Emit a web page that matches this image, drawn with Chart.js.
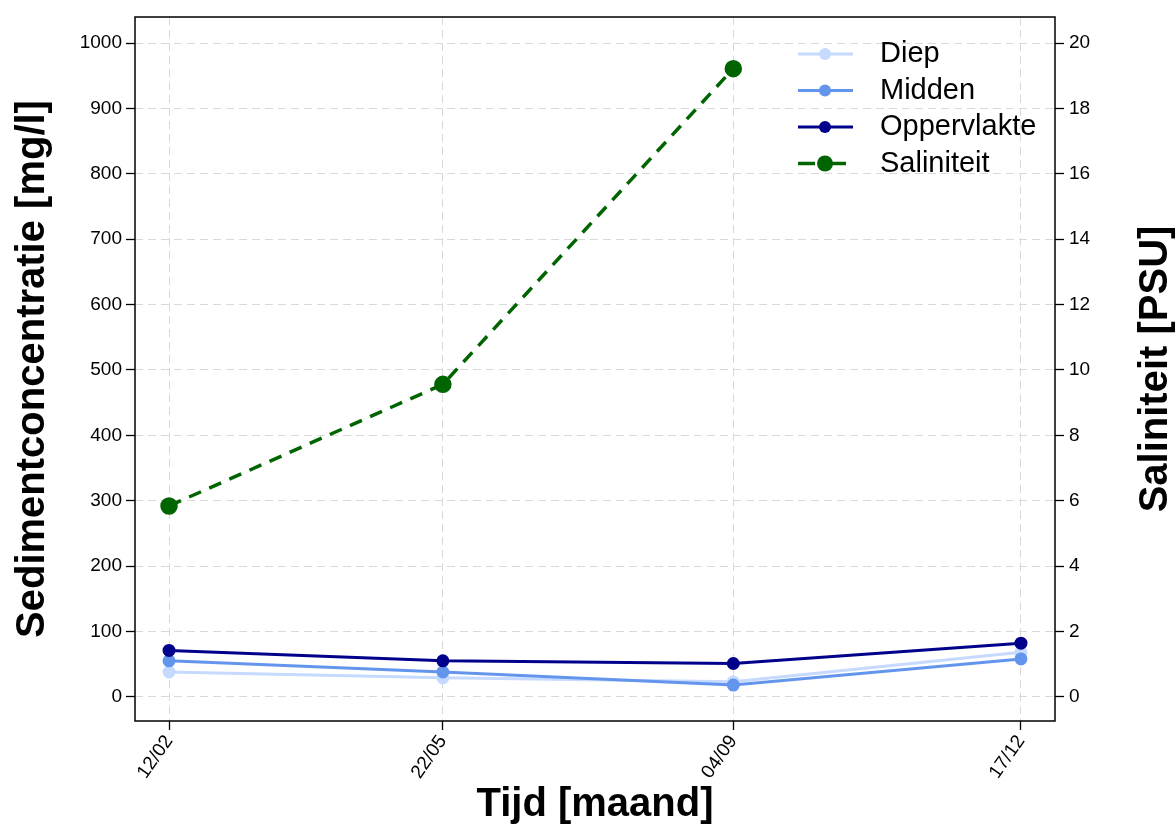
<!DOCTYPE html>
<html>
<head>
<meta charset="utf-8">
<script src="https://cdn.jsdelivr.net/npm/chart.js@4/dist/chart.umd.min.js"></script>
<style>
  html, body { margin: 0; padding: 0; background: #fff; }
  #wrap { width: 1176px; height: 825px; }
</style>
</head>
<body>
<div id="wrap"><canvas id="dataChart" width="1176" height="825"></canvas></div>
<script>
// Data
var dateLabels = ["12/02", "22/05", "04/09", "17/12"];
var dayOfYear = [43, 142, 247, 351];
var diep = [38, 29, 23, 68];
var midden = [55, 38, 18, 58];
var oppervlakte = [71, 55, 51, 82];
var saliniteit = [5.84, 9.56, 19.22, null];
var sedimentTicks = [0, 100, 200, 300, 400, 500, 600, 700, 800, 900, 1000];
var salinityTicks = [0, 2, 4, 6, 8, 10, 12, 14, 16, 18, 20];

var FONT = "'Liberation Sans', Arial, sans-serif";
var gridColor = '#d9d9d9';

function points(values) {
    return values.map(function (v, i) { return { x: dayOfYear[i], y: v }; });
}

function plainNumber(value) {
    return String(value);
}

// Legend drawn inside the plot, top right
var legendPlugin = {
    id: 'insideLegend',
    afterDraw: function (chart) {
        var ctx = chart.ctx;
        var rows = [1, 2, 3, 0]; // dataset indexes in legend order
        ctx.save();
        rows.forEach(function (idx, r) {
            var ds = chart.data.datasets[idx];
            var y = 54 + r * 36.5;
            ctx.strokeStyle = ds.borderColor;
            ctx.lineWidth = ds.borderWidth;
            ctx.setLineDash(ds.borderDash ? [17, 15] : []);
            ctx.beginPath();
            ctx.moveTo(798, y);
            ctx.lineTo(ds.borderDash ? 846 : 853, y);
            ctx.stroke();
            ctx.setLineDash([]);
            ctx.fillStyle = ds.pointBackgroundColor;
            ctx.beginPath();
            ctx.arc(825, y, ds.pointRadius + 1, 0, Math.PI * 2);
            ctx.fill();
            ctx.fillStyle = '#000';
            ctx.font = '29px ' + FONT;
            ctx.textAlign = 'left';
            ctx.textBaseline = 'middle';
            ctx.fillText(ds.label, 880, y);
        });
        ctx.restore();
    }
};

// Plot frame and right axis title
var framePlugin = {
    id: 'frame',
    afterDraw: function (chart) {
        var a = chart.chartArea;
        var ctx = chart.ctx;
        ctx.save();
        ctx.strokeStyle = '#000';
        ctx.lineWidth = 1.5;
        ctx.strokeRect(a.left, a.top, a.right - a.left, a.bottom - a.top);
        ctx.translate(1156, (a.top + a.bottom) / 2);
        ctx.rotate(-Math.PI / 2);
        ctx.fillStyle = '#000';
        ctx.font = 'bold 40px ' + FONT;
        ctx.textAlign = 'center';
        ctx.textBaseline = 'middle';
        ctx.fillText('Saliniteit [PSU]', 0, 0);
        ctx.restore();
    }
};

var ctx = document.getElementById("dataChart");
var myChart = new Chart(ctx, {
    type: 'line',
    data: {
        datasets: [{
            label: 'Saliniteit',
            data: points(saliniteit),
            yAxisID: 'ySal',
            borderColor: '#006400',
            backgroundColor: '#006400',
            pointBackgroundColor: '#006400',
            pointBorderColor: '#006400',
            borderWidth: 3.5,
            borderDash: [13, 9],
            pointRadius: 7,
            order: 0
        }, {
            label: 'Diep',
            data: points(diep),
            yAxisID: 'ySed',
            borderColor: '#c6d9ff',
            backgroundColor: '#c6d9ff',
            pointBackgroundColor: '#c6d9ff',
            pointBorderColor: '#c6d9ff',
            borderWidth: 3,
            pointRadius: 5,
            order: 3
        }, {
            label: 'Midden',
            data: points(midden),
            yAxisID: 'ySed',
            borderColor: '#6495ed',
            backgroundColor: '#6495ed',
            pointBackgroundColor: '#6495ed',
            pointBorderColor: '#6495ed',
            borderWidth: 3,
            pointRadius: 5,
            order: 2
        }, {
            label: 'Oppervlakte',
            data: points(oppervlakte),
            yAxisID: 'ySed',
            borderColor: '#00008b',
            backgroundColor: '#00008b',
            pointBackgroundColor: '#00008b',
            pointBorderColor: '#00008b',
            borderWidth: 3,
            pointRadius: 5,
            order: 1
        }]
    },
    options: {
        responsive: false,
        animation: false,
        layout: { padding: { top: 17, left: 0, right: 0, bottom: 0 } },
        plugins: {
            legend: { display: false },
            tooltip: { enabled: false }
        },
        scales: {
            x: {
                type: 'linear',
                min: 30.7,
                max: 363.3,
                afterBuildTicks: function (scale) {
                    scale.ticks = dayOfYear.map(function (v) { return { value: v }; });
                },
                afterFit: function (scale) { scale.height = 104; },
                ticks: {
                    autoSkip: false,
                    minRotation: 55,
                    maxRotation: 55,
                    padding: 1,
                    color: '#000',
                    font: { family: FONT, size: 19 },
                    callback: function (value) { return dateLabels[dayOfYear.indexOf(value)]; }
                },
                grid: { color: gridColor, tickColor: '#000', tickLength: 9, tickWidth: 1.3 },
                border: { display: false, dash: [8, 5] },
                title: {
                    display: true,
                    text: 'Tijd [maand]',
                    color: '#000',
                    padding: { top: 0, bottom: 0 },
                    font: { family: FONT, size: 40, weight: 'bold', lineHeight: 1 }
                }
            },
            ySed: {
                position: 'left',
                min: -37,
                max: 1040,
                afterBuildTicks: function (scale) {
                    scale.ticks = sedimentTicks.map(function (v) { return { value: v }; });
                },
                afterFit: function (scale) { scale.width = 135; },
                ticks: {
                    padding: 4,
                    color: '#000',
                    font: { family: FONT, size: 19 },
                    callback: plainNumber
                },
                grid: { color: gridColor, tickColor: '#000', tickLength: 9, tickWidth: 1.3 },
                border: { display: false, dash: [8, 5] },
                title: {
                    display: true,
                    text: 'Sedimentconcentratie [mg/l]',
                    color: '#000',
                    padding: { top: 13, bottom: 0 },
                    font: { family: FONT, size: 40, weight: 'bold', lineHeight: 1 }
                }
            },
            ySal: {
                position: 'right',
                min: -0.74,
                max: 20.8,
                afterBuildTicks: function (scale) {
                    scale.ticks = salinityTicks.map(function (v) { return { value: v }; });
                },
                afterFit: function (scale) { scale.width = 121; },
                ticks: {
                    padding: 5,
                    color: '#000',
                    font: { family: FONT, size: 19 },
                    callback: plainNumber
                },
                grid: { drawOnChartArea: false, tickColor: '#000', tickLength: 9, tickWidth: 1.3 },
                border: { display: false }
            }
        }
    },
    plugins: [legendPlugin, framePlugin]
});
</script>
</body>
</html>
